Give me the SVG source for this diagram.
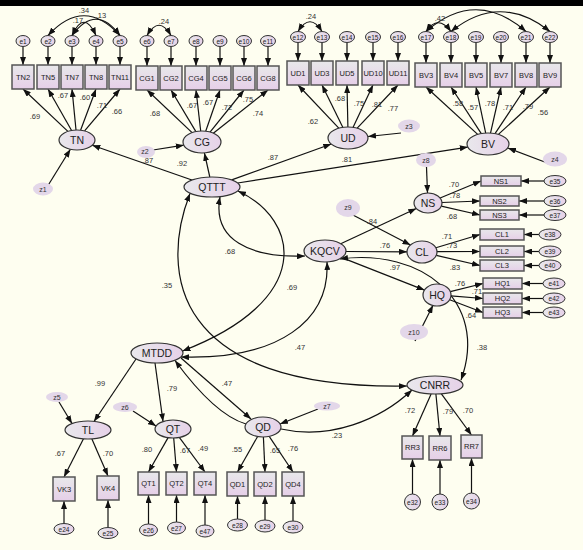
<svg xmlns="http://www.w3.org/2000/svg" width="583" height="550" viewBox="0 0 583 550">
<defs>
<linearGradient id="gl" x1="0" y1="0" x2="1" y2="0"><stop offset="0" stop-color="#E9E8EC"/><stop offset="1" stop-color="#E6D1E8"/></linearGradient>
<linearGradient id="gr" x1="0" y1="0" x2="0" y2="1"><stop offset="0" stop-color="#E8E8EA"/><stop offset="1" stop-color="#E6CFE8"/></linearGradient>
<marker id="ah" viewBox="0 0 8 6" refX="8" refY="3" markerWidth="8" markerHeight="6" markerUnits="userSpaceOnUse" orient="auto-start-reverse"><path d="M0,0 L8,3 L0,6 z" fill="#111"/></marker>
</defs>
<style>
.lat{fill:url(#gl);stroke:#333;stroke-width:1.2}
.ind{fill:url(#gr);stroke:#555;stroke-width:1.5}
.err{fill:url(#gl);stroke:#333;stroke-width:1}
.dist{fill:#E3D7E9}
.c{fill:none;stroke:#111;stroke-width:1.2;marker-end:url(#ah)}
.b{marker-start:url(#ah)}
text{font-family:"Liberation Sans",Arial,sans-serif;fill:#222;text-anchor:middle;dominant-baseline:central}
.tl{font-size:10.5px}
.ti{font-size:7.5px}
.te{font-size:6.5px}
.tz{font-size:7px;fill:#333}
.tw{font-size:7.5px;fill:#333}
</style>
<rect x="0" y="0" width="583" height="550" fill="#FEFEF0"/>
<rect x="0" y="0" width="583" height="6" fill="#000"/>

<g id="connectors">
<path class="c" d="M67.9,131.4 L23,89"/>
<path class="c" d="M71.6,130.5 L48,89"/>
<path class="c" d="M76,130 L72,89"/>
<path class="c" d="M80.6,130.2 L96,89"/>
<path class="c" d="M84.6,130.9 L120,89"/>
<path class="c" d="M192.1,132.6 L147,90"/>
<path class="c" d="M195.9,131.6 L171,90"/>
<path class="c" d="M200.7,131 L196,90"/>
<path class="c" d="M205.7,131.2 L220,90"/>
<path class="c" d="M210,132.1 L244,90"/>
<path class="c" d="M213.3,133.2 L268,90"/>
<path class="c" d="M338.8,128.2 L298,85"/>
<path class="c" d="M342.9,127.4 L322,85"/>
<path class="c" d="M347.9,127 L347,85"/>
<path class="c" d="M353,127.4 L373,85"/>
<path class="c" d="M357.2,128.2 L398,85"/>
<path class="c" d="M477.7,134.4 L426,87"/>
<path class="c" d="M481.3,133.6 L451,87"/>
<path class="c" d="M485.7,133.1 L476,87"/>
<path class="c" d="M490.5,133.1 L501,87"/>
<path class="c" d="M495,133.6 L526,87"/>
<path class="c" d="M498.4,134.4 L550,87"/>
<path class="c" d="M23,46.5 L23,65"/>
<path class="c" d="M48,46.5 L48,65"/>
<path class="c" d="M72,46.5 L72,65"/>
<path class="c" d="M96,46.5 L96,65"/>
<path class="c" d="M120,46.5 L120,65"/>
<path class="c" d="M147,46.5 L147,66"/>
<path class="c" d="M171,46.5 L171,66"/>
<path class="c" d="M196,46.5 L196,66"/>
<path class="c" d="M220,46.5 L220,66"/>
<path class="c" d="M244,46.5 L244,66"/>
<path class="c" d="M268,46.5 L268,66"/>
<path class="c" d="M298,42.5 L298,61"/>
<path class="c" d="M322,42.5 L322,61"/>
<path class="c" d="M347,42.5 L347,61"/>
<path class="c" d="M373,42.5 L373,61"/>
<path class="c" d="M398,42.5 L398,61"/>
<path class="c" d="M426,42.5 L426,63"/>
<path class="c" d="M451,42.5 L451,63"/>
<path class="c" d="M476,42.5 L476,63"/>
<path class="c" d="M501,42.5 L501,63"/>
<path class="c" d="M526,42.5 L526,63"/>
<path class="c" d="M550,42.5 L550,63"/>
<path class="c b" d="M48,35.5 Q84,-4 120,35.5"/>
<path class="c b" d="M72,35.5 Q96,3 120,35.5"/>
<path class="c b" d="M72,35.5 Q84,9 96,35.5"/>
<path class="c b" d="M147,35.5 Q159,15 171,35.5"/>
<path class="c b" d="M298,31.5 Q310,12 322,31.5"/>
<path class="c b" d="M426,31.5 Q438,14 451,31.5"/>
<path class="c b" d="M426,31.5 Q476,-12 526,31.5"/>
<path class="c b" d="M451,31.5 Q500,-8 550,31.5"/>
<path class="c" d="M440.1,198 L481,181"/>
<path class="c" d="M442,202.5 L480,201"/>
<path class="c" d="M441.3,206.1 L480,215"/>
<path class="c" d="M544,181 L521,181"/>
<path class="c" d="M544,201 L519,201"/>
<path class="c" d="M544,215 L519,215"/>
<path class="c" d="M435.9,247.8 L480,234.5"/>
<path class="c" d="M437,251.7 L480,251.5"/>
<path class="c" d="M436.3,255.3 L480,265.5"/>
<path class="c" d="M539,234.5 L524,234.5"/>
<path class="c" d="M539,251.5 L524,251.5"/>
<path class="c" d="M539,265.5 L524,265.5"/>
<path class="c" d="M450.3,291.7 L483,283.5"/>
<path class="c" d="M450.9,295.9 L483,298.5"/>
<path class="c" d="M449.7,299.7 L483,312.5"/>
<path class="c" d="M543,283.5 L522,283.5"/>
<path class="c" d="M543,298.5 L522,298.5"/>
<path class="c" d="M543,312.5 L522,312.5"/>
<path class="c" d="M83.5,438.8 L64,477"/>
<path class="c" d="M91.9,438.9 L108,476"/>
<path class="c" d="M64,523.5 L64,501"/>
<path class="c" d="M108,527 L108,500"/>
<path class="c" d="M168.1,437.6 L148.5,472"/>
<path class="c" d="M173.7,438 L176.5,472"/>
<path class="c" d="M179.3,437.4 L205,472"/>
<path class="c" d="M148.5,524 L148.5,495"/>
<path class="c" d="M176.5,522 L176.5,495"/>
<path class="c" d="M205,525 L205,495"/>
<path class="c" d="M257.6,436.5 L237.5,472"/>
<path class="c" d="M263.4,437 L265,472"/>
<path class="c" d="M269.2,436.4 L293,472"/>
<path class="c" d="M237.5,519 L237.5,496"/>
<path class="c" d="M265,520 L265,496"/>
<path class="c" d="M293,521 L293,496"/>
<path class="c" d="M431.1,393.9 L412.5,436"/>
<path class="c" d="M435.9,394 L440,436"/>
<path class="c" d="M441.4,393.8 L471.5,435"/>
<path class="c" d="M412.5,494 L412.5,459"/>
<path class="c" d="M440,494 L440,460"/>
<path class="c" d="M471.5,493 L471.5,458"/>
<path class="c" d="M191.9,180 L92.3,145.3"/>
<path class="c" d="M209.8,177 L204.4,152.9"/>
<path class="c" d="M231.7,179.9 L331.3,144"/>
<path class="c" d="M237.7,183 L467.8,147.1"/>
<path class="c" d="M44,192 L70.4,149.3"/>
<path class="c" d="M153,150 L183.8,145.2"/>
<path class="c" d="M401,133 L368,136.5"/>
<path class="c" d="M550,164 L508,148"/>
<path class="c" d="M426.5,167 L427.5,193"/>
<path class="c" d="M351,214 L410.5,245"/>
<path class="c" d="M415,341 L433,305.3"/>
<path class="c" d="M340.7,243.7 L416.3,208.5"/>
<path class="c" d="M346,251.5 L407,251.8"/>
<path class="c" d="M341.8,257.6 L424.5,290.1"/>
<path class="c" d="M136,359 L94,421.5"/>
<path class="c" d="M155,363 L163,421.5"/>
<path class="c" d="M181,358 L251,419"/>
<path class="c" d="M59,402 L72,423.5"/>
<path class="c" d="M133,411 L156,426"/>
<path class="c" d="M318,409 L280,424"/>
<path class="c b" d="M220,196.8 C212,240 250,258 305,256"/>
<path class="c b" d="M190,193.5 C160,270 170,390 407,386"/>
<path class="c b" d="M238,191 C300,220 315,300 182.5,351"/>
<path class="c b" d="M327,262 C330,320 280,360 181,357"/>
<path class="c" d="M246,424 Q215,415 175,360.5"/>
<path class="c b" d="M340,259 C420,248 490,300 461,380"/>
<path class="c" d="M281,429 C330,440 380,420 412,390"/>
</g>

<g id="weights">
<text class="tw" x="35" y="116">.69</text>
<text class="tw" x="63" y="95">.67</text>
<text class="tw" x="85" y="97">.60</text>
<text class="tw" x="102" y="105">.71</text>
<text class="tw" x="117" y="111">.66</text>
<text class="tw" x="84" y="10">.34</text>
<text class="tw" x="101" y="15">.13</text>
<text class="tw" x="78" y="20">.17</text>
<text class="tw" x="155" y="113">.68</text>
<text class="tw" x="192" y="105">.67</text>
<text class="tw" x="208" y="102">.67</text>
<text class="tw" x="227" y="107">.72</text>
<text class="tw" x="248" y="99">.75</text>
<text class="tw" x="258" y="113">.74</text>
<text class="tw" x="164" y="21">.24</text>
<text class="tw" x="148" y="160">.87</text>
<text class="tw" x="182" y="163">.92</text>
<text class="tw" x="313" y="121">.62</text>
<text class="tw" x="340" y="98">.68</text>
<text class="tw" x="359" y="103">.75</text>
<text class="tw" x="377" y="104">.81</text>
<text class="tw" x="393" y="108">.77</text>
<text class="tw" x="311" y="16">.24</text>
<text class="tw" x="273" y="157">.87</text>
<text class="tw" x="347" y="159">.81</text>
<text class="tw" x="458" y="103">.58</text>
<text class="tw" x="473" y="107">.57</text>
<text class="tw" x="490" y="103">.78</text>
<text class="tw" x="508" y="107">.71</text>
<text class="tw" x="528" y="106">.79</text>
<text class="tw" x="543" y="112">.56</text>
<text class="tw" x="440" y="18">.42</text>
<text class="tw" x="454" y="184">.70</text>
<text class="tw" x="455" y="195">.78</text>
<text class="tw" x="452" y="216">.68</text>
<text class="tw" x="447" y="236">.71</text>
<text class="tw" x="452" y="245">.73</text>
<text class="tw" x="455" y="267">.83</text>
<text class="tw" x="460" y="283">.76</text>
<text class="tw" x="477" y="291">.71</text>
<text class="tw" x="471" y="315">.64</text>
<text class="tw" x="372" y="221">.84</text>
<text class="tw" x="385" y="245">.76</text>
<text class="tw" x="395" y="267">.97</text>
<text class="tw" x="230" y="251">.68</text>
<text class="tw" x="167" y="285">.35</text>
<text class="tw" x="292" y="287">.69</text>
<text class="tw" x="300" y="347">.47</text>
<text class="tw" x="482" y="347">.38</text>
<text class="tw" x="100" y="383">.99</text>
<text class="tw" x="172" y="388">.79</text>
<text class="tw" x="227" y="383">.47</text>
<text class="tw" x="60" y="453">.67</text>
<text class="tw" x="108" y="453">.70</text>
<text class="tw" x="147" y="449">.80</text>
<text class="tw" x="185" y="450">.67</text>
<text class="tw" x="203" y="448">.49</text>
<text class="tw" x="237" y="449">.55</text>
<text class="tw" x="275" y="450">.65</text>
<text class="tw" x="293" y="448">.76</text>
<text class="tw" x="337" y="435">.23</text>
<text class="tw" x="410" y="410">.72</text>
<text class="tw" x="448" y="411">.79</text>
<text class="tw" x="468" y="410">.70</text>
</g>

<g id="TN"><ellipse class="lat" cx="77" cy="140" rx="18" ry="10"/><text class="tl" x="77" y="140">TN</text></g>
<g id="CG"><ellipse class="lat" cx="202" cy="142" rx="19" ry="11"/><text class="tl" x="202" y="142">CG</text></g>
<g id="UD"><ellipse class="lat" cx="348" cy="138" rx="20" ry="11"/><text class="tl" x="348" y="138">UD</text></g>
<g id="BV"><ellipse class="lat" cx="488" cy="144" rx="21" ry="11"/><text class="tl" x="488" y="144">BV</text></g>
<g id="QTTT"><ellipse class="lat" cx="212" cy="187" rx="28" ry="10"/><text class="tl" x="212" y="187">QTTT</text></g>
<g id="NS"><ellipse class="lat" cx="428" cy="203" rx="14" ry="10"/><text class="tl" x="428" y="203">NS</text></g>
<g id="CL"><ellipse class="lat" cx="422" cy="252" rx="15" ry="11"/><text class="tl" x="422" y="252">CL</text></g>
<g id="KQCV"><ellipse class="lat" cx="325" cy="251" rx="21" ry="11"/><text class="tl" x="325" y="251">KQCV</text></g>
<g id="HQ"><ellipse class="lat" cx="437" cy="295" rx="14" ry="11"/><text class="tl" x="437" y="295">HQ</text></g>
<g id="MTDD"><ellipse class="lat" cx="157" cy="353" rx="26" ry="10"/><text class="tl" x="157" y="353">MTDD</text></g>
<g id="TL"><ellipse class="lat" cx="88" cy="430" rx="23" ry="9"/><text class="tl" x="88" y="430">TL</text></g>
<g id="QT"><ellipse class="lat" cx="173" cy="429" rx="18" ry="9"/><text class="tl" x="173" y="429">QT</text></g>
<g id="QD"><ellipse class="lat" cx="263" cy="427" rx="18" ry="10"/><text class="tl" x="263" y="427">QD</text></g>
<g id="CNRR"><ellipse class="lat" cx="435" cy="385" rx="28" ry="9"/><text class="tl" x="435" y="385">CNRR</text></g>

<g id="z1"><ellipse class="dist" cx="43" cy="189" rx="10" ry="6.5"/><text class="tz" x="43" y="189">z1</text></g>
<g id="z2"><ellipse class="dist" cx="146" cy="152" rx="9" ry="6"/><text class="tz" x="145" y="151">z2</text></g>
<g id="z3"><ellipse class="dist" cx="409" cy="126" rx="11" ry="6.5"/><text class="tz" x="409" y="126">z3</text></g>
<g id="z4"><ellipse class="dist" cx="555" cy="159" rx="12" ry="7.5"/><text class="tz" x="555" y="159">z4</text></g>
<g id="z8"><ellipse class="dist" cx="426" cy="160" rx="10" ry="7"/><text class="tz" x="426" y="160">z8</text></g>
<g id="z9"><ellipse class="dist" cx="348" cy="208" rx="12" ry="9"/><text class="tz" x="348" y="207">z9</text></g>
<g id="z10"><ellipse class="dist" cx="414" cy="332" rx="14" ry="8"/><text class="tz" x="414" y="332">z10</text></g>
<g id="z5"><ellipse class="dist" cx="57" cy="397" rx="11" ry="5"/><text class="tz" x="57" y="397">z5</text></g>
<g id="z6"><ellipse class="dist" cx="125" cy="407" rx="12" ry="5"/><text class="tz" x="125" y="407">z6</text></g>
<g id="z7"><ellipse class="dist" cx="327" cy="406" rx="13" ry="4.5"/><text class="tz" x="327" y="406">z7</text></g>

<g id="TN2"><rect class="ind" x="12" y="65" width="22" height="24"/><text class="ti" x="23" y="77">TN2</text></g>
<g id="TN5"><rect class="ind" x="37" y="65" width="22" height="24"/><text class="ti" x="48" y="77">TN5</text></g>
<g id="TN7"><rect class="ind" x="61" y="65" width="22" height="24"/><text class="ti" x="72" y="77">TN7</text></g>
<g id="TN8"><rect class="ind" x="85" y="65" width="22" height="24"/><text class="ti" x="96" y="77">TN8</text></g>
<g id="TN11"><rect class="ind" x="109" y="65" width="22" height="24"/><text class="ti" x="120" y="77">TN11</text></g>
<g id="CG1"><rect class="ind" x="136" y="66" width="22" height="24"/><text class="ti" x="147" y="78">CG1</text></g>
<g id="CG2"><rect class="ind" x="160" y="66" width="22" height="24"/><text class="ti" x="171" y="78">CG2</text></g>
<g id="CG4"><rect class="ind" x="185" y="66" width="22" height="24"/><text class="ti" x="196" y="78">CG4</text></g>
<g id="CG5"><rect class="ind" x="209" y="66" width="22" height="24"/><text class="ti" x="220" y="78">CG5</text></g>
<g id="CG6"><rect class="ind" x="233" y="66" width="22" height="24"/><text class="ti" x="244" y="78">CG6</text></g>
<g id="CG8"><rect class="ind" x="257" y="66" width="22" height="24"/><text class="ti" x="268" y="78">CG8</text></g>
<g id="UD1"><rect class="ind" x="287" y="61" width="22" height="24"/><text class="ti" x="298" y="73">UD1</text></g>
<g id="UD3"><rect class="ind" x="311" y="61" width="22" height="24"/><text class="ti" x="322" y="73">UD3</text></g>
<g id="UD5"><rect class="ind" x="336" y="61" width="22" height="24"/><text class="ti" x="347" y="73">UD5</text></g>
<g id="UD10"><rect class="ind" x="362" y="61" width="22" height="24"/><text class="ti" x="373" y="73">UD10</text></g>
<g id="UD11"><rect class="ind" x="387" y="61" width="22" height="24"/><text class="ti" x="398" y="73">UD11</text></g>
<g id="BV3"><rect class="ind" x="415" y="63" width="22" height="24"/><text class="ti" x="426" y="75">BV3</text></g>
<g id="BV4"><rect class="ind" x="440" y="63" width="22" height="24"/><text class="ti" x="451" y="75">BV4</text></g>
<g id="BV5"><rect class="ind" x="465" y="63" width="22" height="24"/><text class="ti" x="476" y="75">BV5</text></g>
<g id="BV7"><rect class="ind" x="490" y="63" width="22" height="24"/><text class="ti" x="501" y="75">BV7</text></g>
<g id="BV8"><rect class="ind" x="515" y="63" width="22" height="24"/><text class="ti" x="526" y="75">BV8</text></g>
<g id="BV9"><rect class="ind" x="539" y="63" width="22" height="24"/><text class="ti" x="550" y="75">BV9</text></g>

<g id="NS1"><rect class="ind" x="481" y="176" width="40" height="10"/><text class="ti" x="501" y="181">NS1</text></g>
<g id="NS2"><rect class="ind" x="480" y="196" width="39" height="10"/><text class="ti" x="499.5" y="201">NS2</text></g>
<g id="NS3"><rect class="ind" x="480" y="210" width="39" height="10"/><text class="ti" x="499.5" y="215">NS3</text></g>
<g id="CL1"><rect class="ind" x="480" y="229" width="44" height="11"/><text class="ti" x="502" y="234.5">CL1</text></g>
<g id="CL2"><rect class="ind" x="480" y="246" width="44" height="11"/><text class="ti" x="502" y="251.5">CL2</text></g>
<g id="CL3"><rect class="ind" x="480" y="260" width="44" height="11"/><text class="ti" x="502" y="265.5">CL3</text></g>
<g id="HQ1"><rect class="ind" x="483" y="278" width="39" height="11"/><text class="ti" x="502.5" y="283.5">HQ1</text></g>
<g id="HQ2"><rect class="ind" x="483" y="293" width="39" height="11"/><text class="ti" x="502.5" y="298.5">HQ2</text></g>
<g id="HQ3"><rect class="ind" x="483" y="307" width="39" height="11"/><text class="ti" x="502.5" y="312.5">HQ3</text></g>

<g id="VK3"><rect class="ind" x="53" y="477" width="22" height="24"/><text class="ti" x="64" y="489">VK3</text></g>
<g id="VK4"><rect class="ind" x="97" y="476" width="22" height="24"/><text class="ti" x="108" y="488">VK4</text></g>
<g id="QT1"><rect class="ind" x="138" y="472" width="21" height="23"/><text class="ti" x="148.5" y="483.5">QT1</text></g>
<g id="QT2"><rect class="ind" x="166" y="472" width="21" height="23"/><text class="ti" x="176.5" y="483.5">QT2</text></g>
<g id="QT4"><rect class="ind" x="194" y="472" width="22" height="23"/><text class="ti" x="205" y="483.5">QT4</text></g>
<g id="QD1"><rect class="ind" x="227" y="472" width="21" height="24"/><text class="ti" x="237.5" y="484">QD1</text></g>
<g id="QD2"><rect class="ind" x="254" y="472" width="22" height="24"/><text class="ti" x="265" y="484">QD2</text></g>
<g id="QD4"><rect class="ind" x="282" y="472" width="22" height="24"/><text class="ti" x="293" y="484">QD4</text></g>
<g id="RR3"><rect class="ind" x="402" y="436" width="21" height="23"/><text class="ti" x="412.5" y="447.5">RR3</text></g>
<g id="RR6"><rect class="ind" x="429" y="436" width="22" height="24"/><text class="ti" x="440" y="448">RR6</text></g>
<g id="RR7"><rect class="ind" x="461" y="435" width="21" height="23"/><text class="ti" x="471.5" y="446.5">RR7</text></g>

<g id="e1"><ellipse class="err" cx="23" cy="41" rx="7" ry="5.5"/><text class="te" x="23" y="41">e1</text></g>
<g id="e2"><ellipse class="err" cx="48" cy="41" rx="7" ry="5.5"/><text class="te" x="48" y="41">e2</text></g>
<g id="e3"><ellipse class="err" cx="72" cy="41" rx="7" ry="5.5"/><text class="te" x="72" y="41">e3</text></g>
<g id="e4"><ellipse class="err" cx="96" cy="41" rx="7" ry="5.5"/><text class="te" x="96" y="41">e4</text></g>
<g id="e5"><ellipse class="err" cx="120" cy="41" rx="7" ry="5.5"/><text class="te" x="120" y="41">e5</text></g>
<g id="e6"><ellipse class="err" cx="147" cy="41" rx="7" ry="5.5"/><text class="te" x="147" y="41">e6</text></g>
<g id="e7"><ellipse class="err" cx="171" cy="41" rx="7" ry="5.5"/><text class="te" x="171" y="41">e7</text></g>
<g id="e8"><ellipse class="err" cx="196" cy="41" rx="7" ry="5.5"/><text class="te" x="196" y="41">e8</text></g>
<g id="e9"><ellipse class="err" cx="220" cy="41" rx="7" ry="5.5"/><text class="te" x="220" y="41">e9</text></g>
<g id="e10"><ellipse class="err" cx="244" cy="41" rx="7.5" ry="5.5"/><text class="te" x="244" y="41">e10</text></g>
<g id="e11"><ellipse class="err" cx="268" cy="41" rx="7.5" ry="5.5"/><text class="te" x="268" y="41">e11</text></g>
<g id="e12"><ellipse class="err" cx="298" cy="37" rx="7.5" ry="5.5"/><text class="te" x="298" y="37">e12</text></g>
<g id="e13"><ellipse class="err" cx="322" cy="37" rx="7.5" ry="5.5"/><text class="te" x="322" y="37">e13</text></g>
<g id="e14"><ellipse class="err" cx="347" cy="37" rx="7.5" ry="5.5"/><text class="te" x="347" y="37">e14</text></g>
<g id="e15"><ellipse class="err" cx="373" cy="37" rx="7.5" ry="5.5"/><text class="te" x="373" y="37">e15</text></g>
<g id="e16"><ellipse class="err" cx="398" cy="37" rx="7.5" ry="5.5"/><text class="te" x="398" y="37">e16</text></g>
<g id="e17"><ellipse class="err" cx="426" cy="37" rx="7.5" ry="5.5"/><text class="te" x="426" y="37">e17</text></g>
<g id="e18"><ellipse class="err" cx="451" cy="37" rx="7.5" ry="5.5"/><text class="te" x="451" y="37">e18</text></g>
<g id="e19"><ellipse class="err" cx="476" cy="37" rx="7.5" ry="5.5"/><text class="te" x="476" y="37">e19</text></g>
<g id="e20"><ellipse class="err" cx="501" cy="37" rx="7.5" ry="5.5"/><text class="te" x="501" y="37">e20</text></g>
<g id="e21"><ellipse class="err" cx="526" cy="37" rx="7.5" ry="5.5"/><text class="te" x="526" y="37">e21</text></g>
<g id="e22"><ellipse class="err" cx="550" cy="37" rx="7.5" ry="5.5"/><text class="te" x="550" y="37">e22</text></g>

<g id="e35"><ellipse class="err" cx="555" cy="181" rx="11" ry="5.5"/><text class="te" x="555" y="181">e35</text></g>
<g id="e36"><ellipse class="err" cx="555" cy="201" rx="11" ry="5.5"/><text class="te" x="555" y="201">e36</text></g>
<g id="e37"><ellipse class="err" cx="555" cy="215" rx="11" ry="5.5"/><text class="te" x="555" y="215">e37</text></g>
<g id="e38"><ellipse class="err" cx="550" cy="234.5" rx="11" ry="5.5"/><text class="te" x="550" y="234.5">e38</text></g>
<g id="e39"><ellipse class="err" cx="550" cy="251.5" rx="11" ry="5.5"/><text class="te" x="550" y="251.5">e39</text></g>
<g id="e40"><ellipse class="err" cx="550" cy="265.5" rx="11" ry="5.5"/><text class="te" x="550" y="265.5">e40</text></g>
<g id="e41"><ellipse class="err" cx="554" cy="283.5" rx="11" ry="5.5"/><text class="te" x="554" y="283.5">e41</text></g>
<g id="e42"><ellipse class="err" cx="554" cy="298.5" rx="11" ry="5.5"/><text class="te" x="554" y="298.5">e42</text></g>
<g id="e43"><ellipse class="err" cx="554" cy="312.5" rx="11" ry="5.5"/><text class="te" x="554" y="312.5">e43</text></g>

<g id="e24"><ellipse class="err" cx="64" cy="529" rx="10" ry="5.5"/><text class="te" x="64" y="529">e24</text></g>
<g id="e25"><ellipse class="err" cx="108" cy="533" rx="10" ry="5.5"/><text class="te" x="108" y="533">e25</text></g>
<g id="e26"><ellipse class="err" cx="148.5" cy="530" rx="9" ry="6"/><text class="te" x="148.5" y="530">e26</text></g>
<g id="e27"><ellipse class="err" cx="176.5" cy="528" rx="9" ry="6"/><text class="te" x="176.5" y="528">e27</text></g>
<g id="e47"><ellipse class="err" cx="205" cy="531" rx="9" ry="6"/><text class="te" x="205" y="531">e47</text></g>
<g id="e28"><ellipse class="err" cx="237.5" cy="525" rx="10" ry="6"/><text class="te" x="237.5" y="525">e28</text></g>
<g id="e29"><ellipse class="err" cx="265" cy="526" rx="10" ry="6"/><text class="te" x="265" y="526">e29</text></g>
<g id="e30"><ellipse class="err" cx="293" cy="527" rx="10" ry="6"/><text class="te" x="293" y="527">e30</text></g>
<g id="e32"><ellipse class="err" cx="412.5" cy="502" rx="8" ry="8"/><text class="te" x="412.5" y="502">e32</text></g>
<g id="e33"><ellipse class="err" cx="440" cy="502" rx="8" ry="8"/><text class="te" x="440" y="502">e33</text></g>
<g id="e34"><ellipse class="err" cx="471.5" cy="501" rx="8" ry="8"/><text class="te" x="471.5" y="501">e34</text></g>
</svg>
